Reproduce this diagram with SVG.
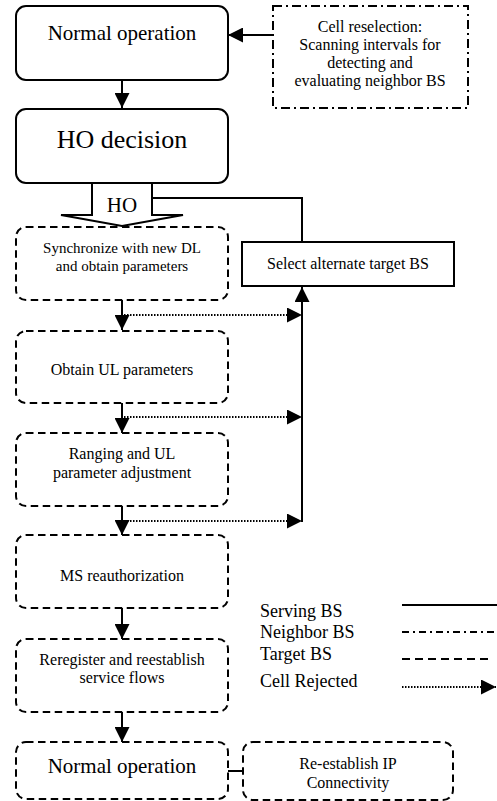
<svg xmlns="http://www.w3.org/2000/svg" width="497" height="801" viewBox="0 0 497 801">
<style>
text{font-family:"Liberation Serif","Times New Roman",serif;fill:#000;text-anchor:middle}
.s{fill:#fff;stroke:#000;stroke-width:2}
.d{fill:#fff;stroke:#000;stroke-width:2;stroke-dasharray:7.5 4.5}
.dd{fill:#fff;stroke:#000;stroke-width:2;stroke-dasharray:9 4 2 4}
.ln{fill:none;stroke:#000;stroke-width:2}
.dot{fill:none;stroke:#000;stroke-width:2;stroke-dasharray:1.5 1.5}
.t16{font-size:16px}
.lg{font-size:18px;text-anchor:start}
</style>
<defs>
<marker id="ah" markerUnits="userSpaceOnUse" markerWidth="15" markerHeight="15" viewBox="0 0 15 15" refX="15" refY="7.5" orient="auto">
<path d="M0,0 L15,7.5 L0,15 Z" fill="#000"/>
</marker>
</defs>

<g id="normal1">
<rect class="s" x="16" y="6" width="212" height="74" rx="10"/>
<text x="122" y="40" font-size="21">Normal operation</text>
</g>
<g id="cellresel">
<rect class="dd" x="273" y="6" width="195" height="102"/>
<text class="t16" x="370" y="32">Cell reselection:</text>
<text class="t16" x="370" y="50">Scanning intervals for</text>
<text class="t16" x="370" y="68">detecting and</text>
<text class="t16" x="370" y="86">evaluating neighbor BS</text>
</g>
<g id="hodecision">
<rect class="s" x="16" y="109" width="212" height="74" rx="10"/>
<text x="122" y="148" font-size="26">HO decision</text>
</g>
<g id="hoarrow">
<polygon class="s" points="92,183 92,215 61,215 122,226 183,215 152,215 152,183"/>
<text x="122" y="212" font-size="21">HO</text>
</g>
<g id="sync">
<rect class="d" x="16" y="227" width="212" height="73" rx="10"/>
<text class="t16" x="122" y="253" font-size="15" style="font-size:15px">Synchronize with new DL</text>
<text class="t16" x="122" y="271" style="font-size:15px">and obtain parameters</text>
</g>
<g id="select">
<rect class="s" x="242" y="242" width="212" height="44"/>
<text class="t16" x="348" y="269">Select alternate target BS</text>
</g>
<g id="obtainul">
<rect class="d" x="16" y="331" width="212" height="72" rx="10"/>
<text class="t16" x="122" y="375">Obtain UL parameters</text>
</g>
<g id="ranging">
<rect class="d" x="16" y="433" width="212" height="73" rx="10"/>
<text class="t16" x="122" y="459">Ranging and UL</text>
<text class="t16" x="122" y="478">parameter adjustment</text>
</g>
<g id="msreauth">
<rect class="d" x="16" y="535" width="212" height="73" rx="10"/>
<text class="t16" x="122" y="581">MS reauthorization</text>
</g>
<g id="reregister">
<rect class="d" x="16" y="639" width="212" height="73" rx="10"/>
<text class="t16" x="122" y="665">Reregister and reestablish</text>
<text class="t16" x="122" y="683">service flows</text>
</g>
<g id="normal2">
<rect class="d" x="16" y="742" width="212" height="57" rx="10"/>
<text x="122" y="773" font-size="21">Normal operation</text>
</g>
<g id="reestablish">
<rect class="d" x="243" y="742" width="210" height="58" rx="10"/>
<text class="t16" x="348" y="769">Re-establish IP</text>
<text class="t16" x="348" y="788">Connectivity</text>
</g>

<g id="connectors">
<line class="ln" x1="273" y1="35" x2="228" y2="35" marker-end="url(#ah)"/>
<line class="ln" x1="122" y1="80" x2="122" y2="108" marker-end="url(#ah)"/>
<polyline class="ln" points="152,198 302,198 302,242"/>
<line class="ln" x1="122" y1="300" x2="122" y2="330" marker-end="url(#ah)"/>
<line class="ln" x1="122" y1="403" x2="122" y2="433" marker-end="url(#ah)"/>
<line class="ln" x1="122" y1="506" x2="122" y2="535" marker-end="url(#ah)"/>
<line class="ln" x1="122" y1="608" x2="122" y2="639" marker-end="url(#ah)"/>
<line class="ln" x1="122" y1="712" x2="122" y2="742" marker-end="url(#ah)"/>
<line class="dot" x1="124" y1="315" x2="302" y2="315" marker-end="url(#ah)"/>
<line class="dot" x1="124" y1="417" x2="302" y2="417" marker-end="url(#ah)"/>
<line class="dot" x1="124" y1="521" x2="302" y2="521" marker-end="url(#ah)"/>
<line class="ln" x1="302" y1="522" x2="302" y2="287" marker-end="url(#ah)"/>
<line class="ln" x1="228" y1="771" x2="243" y2="771"/>
</g>

<g id="legend">
<text class="lg" x="260" y="617">Serving BS</text>
<text class="lg" x="260" y="638">Neighbor BS</text>
<text class="lg" x="260" y="660">Target BS</text>
<text class="lg" x="260" y="687">Cell Rejected</text>
<line class="ln" x1="402" y1="605" x2="497" y2="605"/>
<line class="ln" x1="402" y1="632" x2="497" y2="632" style="stroke-dasharray:7 4 2 4"/>
<line class="ln" x1="402" y1="659" x2="490" y2="659" style="stroke-dasharray:8 5"/>
<line class="dot" x1="402" y1="687" x2="496" y2="687" marker-end="url(#ah)"/>
</g>
</svg>
